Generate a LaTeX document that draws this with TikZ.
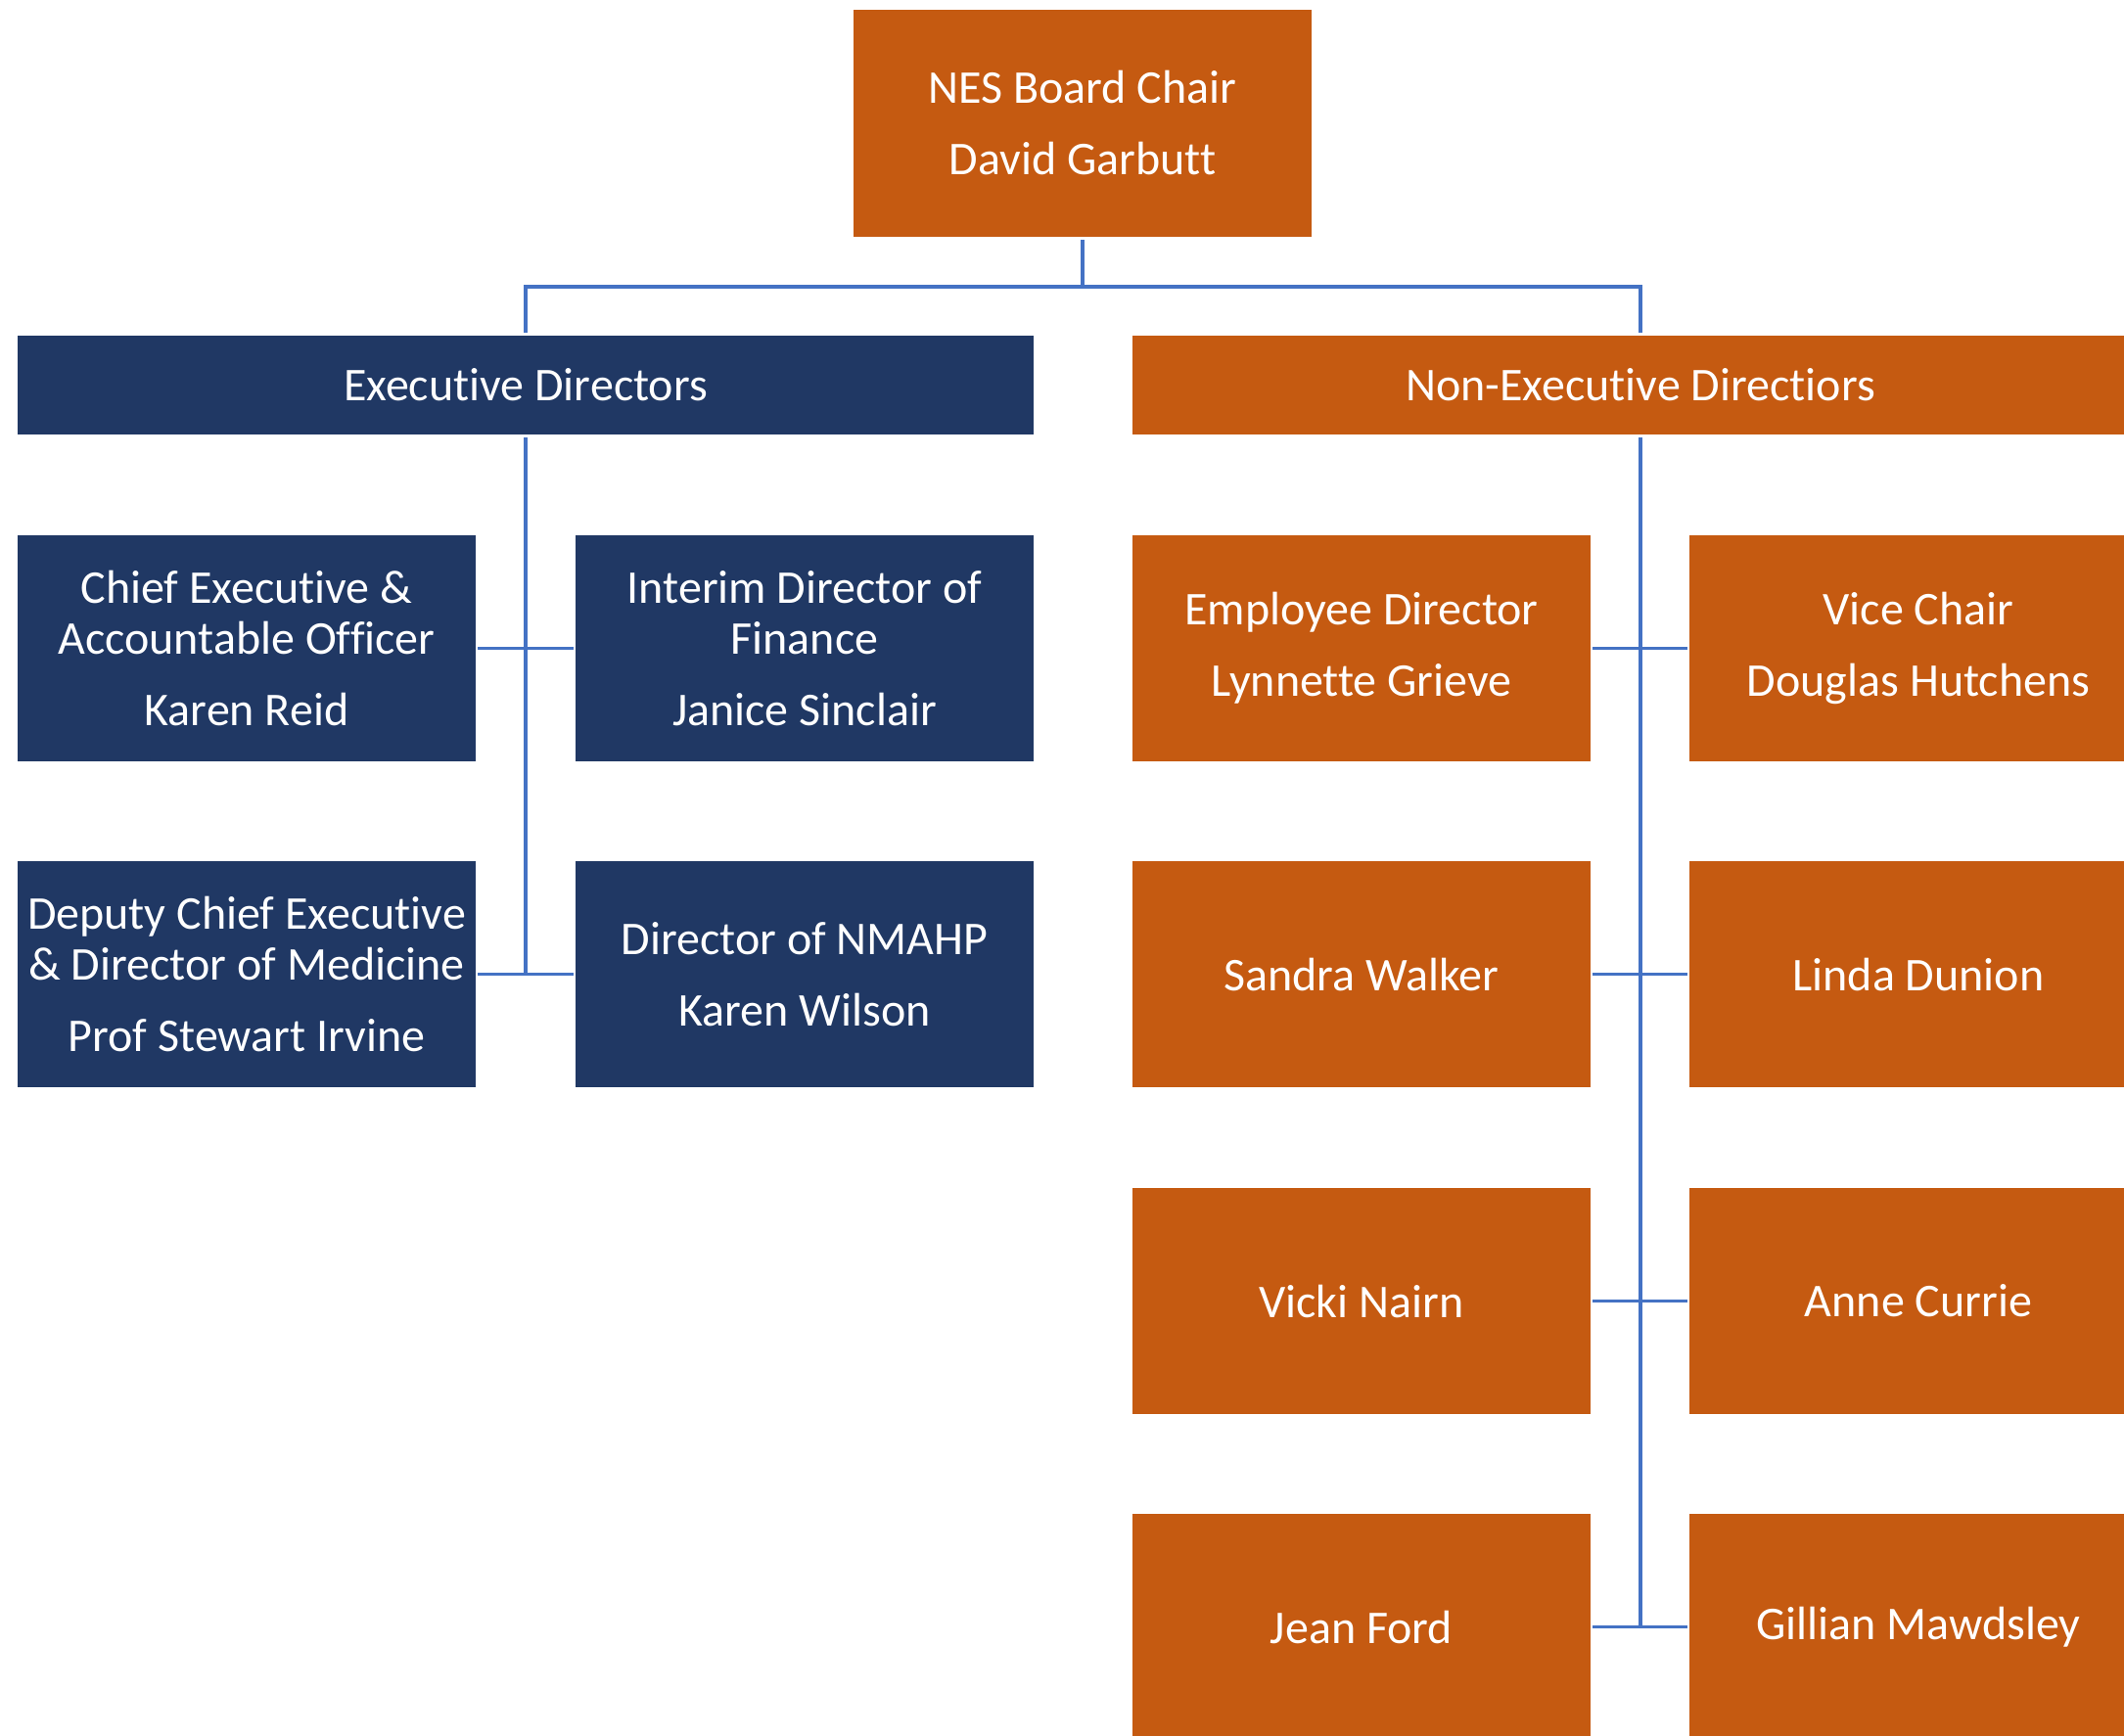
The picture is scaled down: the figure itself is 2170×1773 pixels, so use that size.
\documentclass[tikz,border=0pt]{standalone}
\usepackage{fontspec}
\setmainfont{Carlito}[Ligatures={NoCommon,NoContextual}]
\definecolor{nesorange}{HTML}{C55A11}
\definecolor{nesnavy}{HTML}{203864}
\definecolor{nesline}{HTML}{4472C4}
\begin{document}
\begin{tikzpicture}[x=1pt,y=-1pt,
  box/.style={rectangle, inner sep=0pt, minimum width=468pt, minimum height=231pt,
    align=center, text=white, font=\fontsize{48}{52}\selectfont},
  orangebox/.style={box, fill=nesorange},
  navybox/.style={box, fill=nesnavy},
  headbox/.style={minimum width=1038pt, minimum height=101pt},
  conn/.style={draw=nesline, line width=3.2pt}]
\useasboundingbox (0,0) rectangle (2170,1773);
\clip (0,0) rectangle (2170,1773);
\fill[white] (0,0) rectangle (2170,1773);

% top
\node[orangebox, minimum height=232pt] (chair) at (1106,126) {NES Board Chair\\[21pt]David Garbutt};

% headers
\node[navybox, headbox] (exec) at (537,393.5) {Executive Directors};
\node[orangebox, headbox] (nonexec) at (1676,393.5) {Non-Executive Directiors};

% executive directors
\node[navybox] (ce) at (252,662.5) {Chief Executive \&\\Accountable Officer\\[21pt]Karen Reid};
\node[navybox] (fin) at (822,662.5) {Interim Director of\\Finance\\[21pt]Janice Sinclair};
\node[navybox] (dce) at (252,995.5) {Deputy Chief Executive\\\& Director of Medicine\\[21pt]Prof Stewart Irvine};
\node[navybox] (nm) at (822,995.5) {Director of NMAHP\\[21pt]Karen Wilson};

% non-executive directors
\node[orangebox] (ed) at (1391,662.5) {Employee Director\\[21pt]Lynnette Grieve};
\node[orangebox] (vc) at (1960,662.5) {Vice Chair\\[21pt]Douglas Hutchens};
\node[orangebox] (sw) at (1391,995.5) {Sandra Walker};
\node[orangebox] (ld) at (1960,995.5) {Linda Dunion};
\node[orangebox] (vn) at (1391,1329.5) {Vicki Nairn};
\node[orangebox] (ac) at (1960,1329.5) {Anne Currie};
\node[orangebox] (jf) at (1391,1662.5) {Jean Ford};
\node[orangebox] (gm) at (1960,1662.5) {Gillian Mawdsley};

% connectors
\coordinate (bus) at (1106,293);
\draw[conn] ([yshift=-3pt]chair.south) -- (chair.south |- bus);
\draw[conn] ([yshift=3pt]exec.north) -- (exec.north |- bus) -- (nonexec.north |- bus) -- ([yshift=3pt]nonexec.north);

\draw[conn] ([yshift=-3pt]exec.south) -- (exec.south |- dce.east);
\draw[conn] ([xshift=2pt]ce.east) -- ([xshift=-2pt]fin.west);
\draw[conn] ([xshift=2pt]dce.east) -- ([xshift=-2pt]nm.west);

\draw[conn] ([yshift=-3pt]nonexec.south) -- (nonexec.south |- jf.east);
\draw[conn] ([xshift=2pt]ed.east) -- ([xshift=-2pt]vc.west);
\draw[conn] ([xshift=2pt]sw.east) -- ([xshift=-2pt]ld.west);
\draw[conn] ([xshift=2pt]vn.east) -- ([xshift=-2pt]ac.west);
\draw[conn] ([xshift=2pt]jf.east) -- ([xshift=-2pt]gm.west);
\end{tikzpicture}
\end{document}
